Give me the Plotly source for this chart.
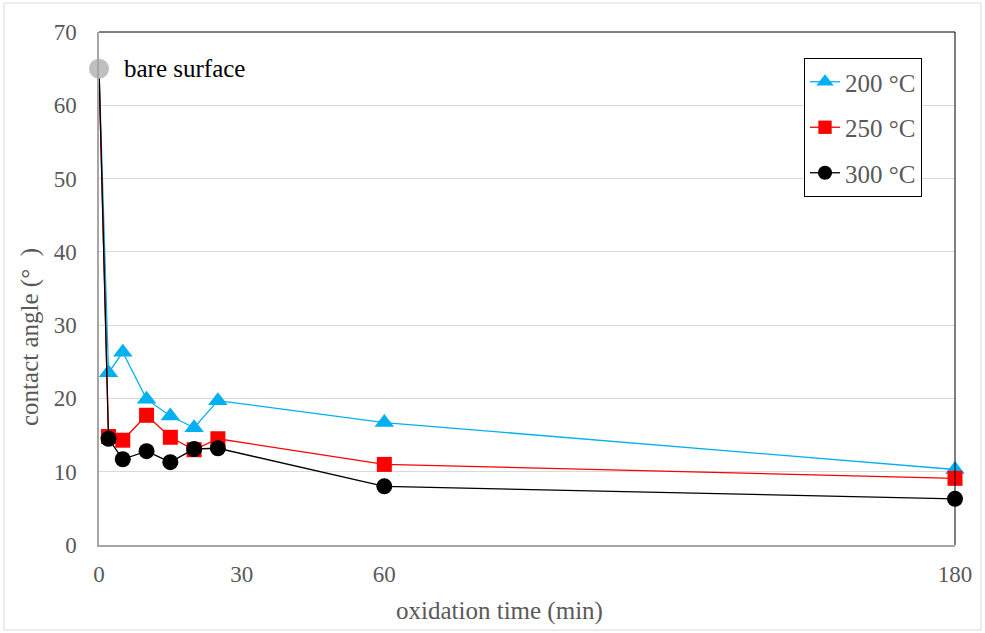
import plotly.graph_objects as go

x_min = [0, 2, 5, 10, 15, 20, 25, 60, 180]
angle_200 = [65, 23.5, 26.3, 19.9, 17.6, 16.0, 19.7, 16.7, 10.3]
angle_250 = [65, 14.8, 14.3, 17.7, 14.7, 13.0, 14.5, 11.0, 9.1]
angle_300 = [65, 14.5, 11.7, 12.8, 11.3, 13.1, 13.2, 8.0, 6.3]
bare_x = [0]
bare_y = [65]
x_ticks = [0, 30, 60, 180]
y_ticks = [0, 10, 20, 30, 40, 50, 60, 70]

FONT = "Liberation Serif"
GRAY = "#595959"
L, R, T, B = 99, 955, 32, 545
PW, PH = R - L, B - T
fig = go.Figure()

def add_series(name, y, color, symbol, size):
    sizes = [0] + [size] * (len(y) - 1)
    fig.add_trace(go.Scatter(
        x=x_min, y=y, name=name, mode="lines+markers",
        line=dict(color=color, width=1.3),
        marker=dict(color=color, symbol=symbol, size=sizes, opacity=1,
                    line=dict(width=0)),
        cliponaxis=False, legendgroup=name,
    ))

add_series("200 °C", angle_200, "#00B0F0", "triangle-up", 17)
add_series("250 °C", angle_250, "#FF0000", "square", 15)
add_series("300 °C", angle_300, "#000000", "circle", 16)

fig.add_trace(go.Scatter(
    x=bare_x, y=bare_y, mode="markers", showlegend=False,
    marker=dict(color="#BFBFBF", size=20, line=dict(width=0)), cliponaxis=False,
))

fig.add_annotation(x=0, y=65, xref="x", yref="y", text="bare surface",
                   showarrow=False, xanchor="left", xshift=23,
                   font=dict(family=FONT, size=25, color="#000000"))

# axis titles (centred on the whole chart like the original)
fig.add_annotation(x=(499 - L) / PW, y=(B - 611) / PH, xref="paper", yref="paper",
                   text="oxidation time (min)", showarrow=False,
                   xanchor="center", yanchor="middle",
                   font=dict(family=FONT, size=25, color=GRAY))
fig.add_annotation(x=(30 - L) / PW, y=(B - 337) / PH, xref="paper", yref="paper",
                   text="contact angle (°\u00a0\u00a0)", showarrow=False, textangle=-90,
                   xanchor="center", yanchor="middle",
                   font=dict(family=FONT, size=25, color=GRAY))

# top/right black frame lines
fig.add_shape(type="line", xref="paper", yref="paper", x0=0, x1=1, y0=1, y1=1,
              line=dict(color="black", width=1))
fig.add_shape(type="line", xref="paper", yref="paper", x0=1, x1=1, y0=0, y1=1,
              line=dict(color="black", width=1))
# outer chart border
fig.add_shape(type="rect", xref="paper", yref="paper",
              x0=(4 - L) / PW, x1=(981 - L) / PW,
              y0=(B - 630) / PH, y1=(B - 3) / PH,
              line=dict(color="#D9D9D9", width=1))

fig.update_layout(
    width=985, height=633,
    margin=dict(l=L, r=985 - R, t=T, b=633 - B),
    paper_bgcolor="white", plot_bgcolor="white",
    font=dict(family=FONT, size=23, color=GRAY),
    legend=dict(x=(804 - L) / PW, y=(B - 58) / PH, xanchor="left", yanchor="top",
                bordercolor="#000000", borderwidth=1, bgcolor="white",
                font=dict(family=FONT, size=25, color=GRAY),
                tracegroupgap=10, itemwidth=30),
    xaxis=dict(range=[0, 180], tickvals=x_ticks, showgrid=False,
               showline=True, linecolor="#A6A6A6", linewidth=1.5,
               zeroline=False, ticks="", ticklabelstandoff=8,
               tickfont=dict(family=FONT, size=23, color=GRAY)),
    yaxis=dict(range=[0, 70], tickvals=y_ticks, showgrid=True,
               gridcolor="#D9D9D9", gridwidth=1,
               showline=True, linecolor="#A6A6A6", linewidth=1.5,
               zeroline=False, ticks="", ticklabelstandoff=16,
               tickfont=dict(family=FONT, size=23, color=GRAY)),
)

fig.write_html("out.html", config={"displayModeBar": False},
               post_script="document.body.style.margin='0px';")
